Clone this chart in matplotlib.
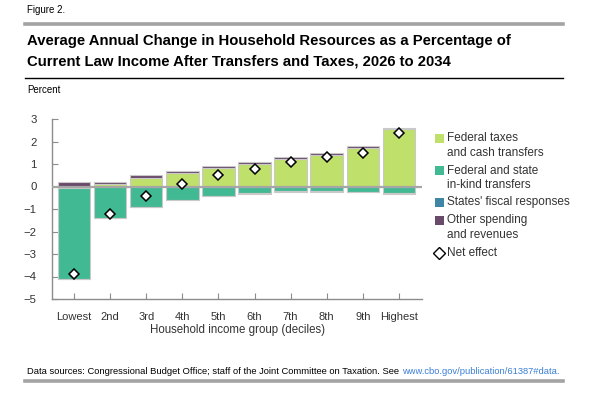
import numpy as np
import matplotlib
matplotlib.use("Agg")
import matplotlib.pyplot as plt
from matplotlib.lines import Line2D
from matplotlib.patches import Rectangle

plt.rcParams['font.family'] = ['Liberation Sans', 'DejaVu Sans']

# data (percent)
groups = ['Lowest', '2nd', '3rd', '4th', '5th', '6th', '7th', '8th', '9th', 'Highest']
fed_taxes = [-0.06, 0.10, 0.40, 0.59, 0.81, 0.99, 1.21, 1.41, 1.72, 2.57]
in_kind = [-4.06, -1.41, -0.92, -0.61, -0.41, -0.31, -0.22, -0.22, -0.24, -0.31]
states = [-0.01, -0.01, -0.01, -0.01, -0.01, -0.01, -0.01, -0.01, -0.01, -0.01]
other = [0.19, 0.09, 0.09, 0.09, 0.09, 0.09, 0.09, 0.09, 0.09, 0.02]
net_effect = [-3.91, -1.21, -0.40, 0.10, 0.49, 0.79, 1.10, 1.29, 1.50, 2.40]

c_fed = '#bfe06a'
c_kind = '#41b992'
c_state = '#3f86a6'
c_other = '#6a4a6a'
c_axis = '#8c8c8c'
c_text = '#333333'

W, H = 609, 396
fig = plt.figure(figsize=(W / 100, H / 100), dpi=100)

def fx(px):
    return px / W

def fy(py):
    return 1 - py / H

ax = fig.add_axes([fx(52), fy(299), fx(422) - fx(52), fy(119) - fy(299)])

x = np.arange(len(groups))
pos_base = np.zeros(len(groups))
neg_base = np.zeros(len(groups))
for vals, col in [(fed_taxes, c_fed), (in_kind, c_kind), (states, c_state), (other, c_other)]:
    vals = np.array(vals)
    bottom = np.where(vals >= 0, pos_base, neg_base)
    ax.bar(x, vals, 0.9, bottom=bottom, color=col, edgecolor='#c9c9c9', linewidth=0.8, zorder=2)
    pos_base += np.where(vals >= 0, vals, 0)
    neg_base += np.where(vals < 0, vals, 0)

ax.axhline(0, color='#a6a6a6', lw=1.6, zorder=3)
ax.plot(x, net_effect, 'D', ms=5, mfc='white', mec='black', mew=1.1, ls='none', zorder=4)

ax.set_xlim(-0.61, 9.64)
ax.set_ylim(-5, 3)
ax.set_yticks(range(-5, 4))
ax.set_xticks(x)
ax.set_xticklabels(groups)
for s in ['top', 'right']:
    ax.spines[s].set_visible(False)
for s in ['left', 'bottom']:
    ax.spines[s].set_color(c_axis)
    ax.spines[s].set_linewidth(1.0)
ax.tick_params(axis='y', direction='in', length=4, color=c_axis, pad=11, labelsize=8.2, labelcolor=c_text)
ax.tick_params(axis='x', direction='in', length=4, color=c_axis, pad=9, labelsize=8, labelcolor=c_text)
ax.set_xlabel('Household income group (deciles)', fontsize=8.3, color=c_text, labelpad=1.5)

# header
fig.text(fx(27), fy(10), 'Figure 2.', fontsize=7, va='center', ha='left')
fig.add_artist(Line2D([fx(25), fx(563)], [fy(24), fy(24)], color='#a3a3a3', lw=2.6))
fig.text(fx(27), fy(41), 'Average Annual Change in Household Resources as a Percentage of',
         fontsize=10.7, fontweight='bold', va='center', ha='left')
fig.text(fx(27), fy(61), 'Current Law Income After Transfers and Taxes, 2026 to 2034',
         fontsize=10.7, fontweight='bold', va='center', ha='left')
fig.add_artist(Line2D([fx(25), fx(563)], [fy(77.5), fy(77.5)], color='black', lw=1.0))
fig.text(fx(27), fy(90), 'Percent', fontsize=7, va='center', ha='left')

# legend
leg_items = [
    (c_fed, ['Federal taxes', 'and cash transfers'], 138),
    (c_kind, ['Federal and state', 'in-kind transfers'], 170.5),
    (c_state, ["States' fiscal responses"], 202.5),
    (c_other, ['Other spending', 'and revenues'], 220.5),
]
for col, lines, yc in leg_items:
    fig.add_artist(Rectangle((fx(435), fy(yc + 4.5)), fx(9), 9 / H, facecolor=col, edgecolor='none'))
    for i, t in enumerate(lines):
        fig.text(fx(447), fy(yc + i * 14.5), t, fontsize=8.5, va='center', ha='left', color=c_text)
fig.add_artist(Line2D([fx(439.5)], [fy(252.5)], marker='D', ms=6, mfc='white', mec='black', mew=1.0))
fig.text(fx(447), fy(252.5), 'Net effect', fontsize=8.5, va='center', ha='left', color=c_text)

# footer
src = fig.text(fx(27), fy(372), 'Data sources: Congressional Budget Office; staff of the Joint Committee on Taxation. See ',
               fontsize=6.75, va='center', ha='left')
fig.canvas.draw()
bb = src.get_window_extent()
fig.text(bb.x1 / W, fy(372), 'www.cbo.gov/publication/61387#data.', fontsize=6.75, va='center', ha='left', color='#3a7fd5')
fig.add_artist(Line2D([fx(25), fx(563)], [fy(380.5), fy(380.5)], color='#a3a3a3', lw=2.6))

fig.savefig('out.png', dpi=100)
